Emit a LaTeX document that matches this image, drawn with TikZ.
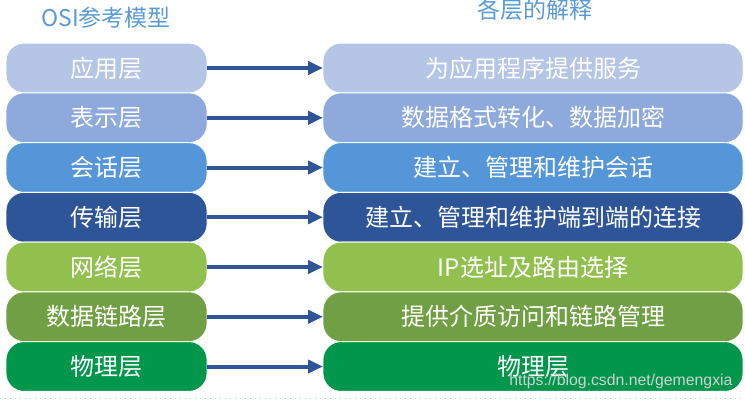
\documentclass[tikz,border=0pt]{standalone}
\usepackage{fontspec}
\usepackage{xcolor}
\usepackage{tikz}
\usetikzlibrary{arrows.meta, positioning}
\newfontfamily\cjk{Noto Sans CJK SC}
\newfontfamily\wfont{Liberation Sans}
\definecolor{layerA}{HTML}{B4C5E6}
\definecolor{layerB}{HTML}{8EA9DB}
\definecolor{layerC}{HTML}{5596D8}
\definecolor{layerD}{HTML}{2E5597}
\definecolor{layerE}{HTML}{92C04F}
\definecolor{layerF}{HTML}{71A044}
\definecolor{layerG}{HTML}{00974C}
\definecolor{arrowblue}{HTML}{2F5597}
\definecolor{titleblue}{HTML}{5B9BD5}

\begin{document}
\begin{tikzpicture}[x=1pt, y=-1pt,
			lbox/.style={rectangle, rounded corners=18pt, draw=white, line width=0.8pt, outer sep=0pt,
				minimum width=201pt, minimum height=49.75pt, text=white, font=\cjk\fontsize{24}{24}\selectfont},
			rbox/.style={lbox, minimum width=420pt},
			arrow/.style={arrowblue, line width=4pt, -{Triangle[length=15pt, width=13pt]}},
			title/.style={titleblue, font=\cjk\fontsize{23}{23}\selectfont}
		]

		\useasboundingbox[fill=white] (0,0) rectangle (745,400);

		% Draw the titles
		\node[title] (osi) at (106,18) {OSI参考模型};
		\node[title] (expl) at (535,10) {各层的解释};

		% Draw the layer boxes
		\node[lbox, fill=layerA] (app) at (106.5,68) {应用层};
		\node[lbox, fill=layerB, below=0pt of app] (pres) {表示层};
		\node[lbox, fill=layerC, below=0pt of pres] (sess) {会话层};
		\node[lbox, fill=layerD, below=0pt of sess] (trans) {传输层};
		\node[lbox, fill=layerE, below=0pt of trans] (net) {网络层};
		\node[lbox, fill=layerF, below=0pt of net] (link) {数据链路层};
		\node[lbox, fill=layerG, below=0pt of link] (phys) {物理层};

		% Draw the explanation boxes
		\node[rbox, fill=layerA, right=116pt of app] (appx) {为应用程序提供服务};
		\node[rbox, fill=layerB, right=116pt of pres] (presx) {数据格式转化、数据加密};
		\node[rbox, fill=layerC, right=116pt of sess] (sessx) {建立、管理和维护会话};
		\node[rbox, fill=layerD, right=116pt of trans] (transx) {建立、管理和维护端到端的连接};
		\node[rbox, fill=layerE, right=116pt of net] (netx) {IP选址及路由选择};
		\node[rbox, fill=layerF, right=116pt of link] (linkx) {提供介质访问和链路管理};
		\node[rbox, fill=layerG, right=116pt of phys] (physx) {物理层};

		% Draw the arrows
		\draw[arrow] (app) -- (appx);
		\draw[arrow] (pres) -- (presx);
		\draw[arrow] (sess) -- (sessx);
		\draw[arrow] (trans) -- (transx);
		\draw[arrow] (net) -- (netx);
		\draw[arrow] (link) -- (linkx);
		\draw[arrow] (phys) -- (physx);

		% Watermark and bottom rule
		\node[anchor=base east, text=white!82!black, font=\wfont\fontsize{15.8}{15.8}\selectfont] (wm) at (736,385) {https://blog.csdn.net/gemengxia};
		\draw[teal!35, line width=1pt, dash pattern=on 1pt off 4pt] (0,398) -- (745,398);

		\end{tikzpicture}
\end{document}
